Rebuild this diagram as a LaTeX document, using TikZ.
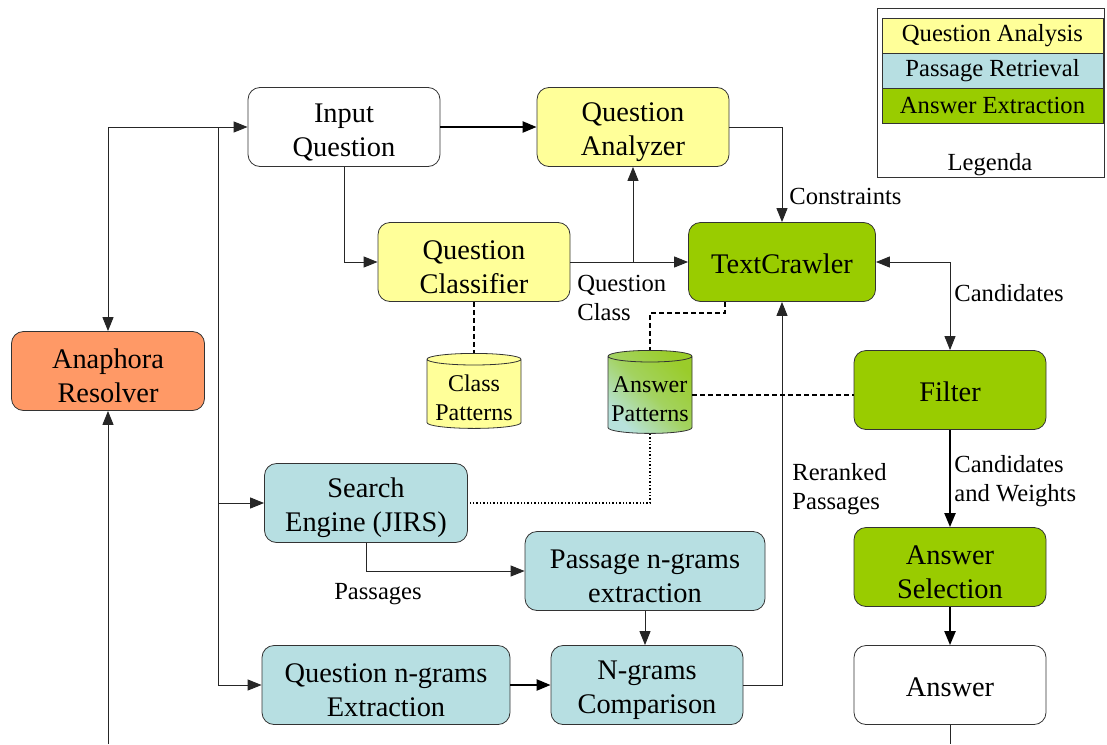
\documentclass[tikz,border=0pt]{standalone}
\usepackage{fontspec}
\setmainfont{Liberation Serif}
\usetikzlibrary{arrows.meta,shapes.geometric}
\definecolor{qyellow}{HTML}{FFFF99}
\definecolor{pblue}{HTML}{B7DFE2}
\definecolor{agreen}{HTML}{99CC00}
\definecolor{rorange}{HTML}{FF9966}
\definecolor{apblue}{HTML}{B8E2DC}
\definecolor{apgreen}{HTML}{9ACC2A}
\begin{document}
\begin{tikzpicture}[x=0.5pt,y=-0.5pt,
    box/.style={draw=black!80,rounded corners=6pt,minimum width=96pt,minimum height=39.5pt,
        align=center,inner sep=1pt,text height=31.5pt,font=\fontsize{14.2}{17}\selectfont},
    one line/.style={text height=11.5pt},
    db/.style={draw=black!80,cylinder,shape border rotate=90,aspect=0.15,
        align=center,inner sep=0pt,text height=26.5pt,font=\fontsize{12}{14.5}\selectfont},
    lbl/.style={align=left,inner sep=0pt,font=\fontsize{12.3}{14.5}\selectfont},
    legrow/.style={draw=black!80,minimum width=110.5pt,minimum height=17.5pt,inner sep=0pt,
        font=\fontsize{12.3}{14}\selectfont},
    arr/.style={-{Triangle[length=7pt,width=5.5pt]}},
    link/.style={black!85,line width=0.5pt},
    thick link/.style={black,line width=1.1pt},
    dep/.style={black,line width=0.7pt,dash pattern=on 2.5pt off 1.5pt},
    dep2/.style={black,line width=0.7pt,densely dotted}]
    \useasboundingbox (0,0) rectangle (1107,744);

    % question analysis
    \node[box,fill=white] (IQ) at (344,127) {Input\\Question};
    \node[box,fill=qyellow] (QA) at (633,127) {Question\\Analyzer};
    \node[box,fill=qyellow] (QC) at (474,262) {Question\\Classifier};
    \node[db,fill=qyellow,minimum width=47pt,minimum height=37.5pt,anchor=north] (CP) at (474,353) {Class\\Patterns};
    \node[box,fill=rorange,minimum width=96.5pt] (AR) at (108,371) {Anaphora\\Resolver};

    % passage retrieval
    \node[box,fill=pblue,minimum width=101.5pt] (SE) at (366,503) {Search\\Engine (JIRS)};
    \node[box,fill=pblue,minimum width=120pt] (PN) at (645,571) {Passage n-grams\\extraction};
    \node[box,fill=pblue,minimum width=124pt] (QN) at (386,685) {Question n-grams\\Extraction};
    \node[box,fill=pblue] (NC) at (647,685) {N-grams\\Comparison};

    % answer extraction
    \node[box,one line,fill=agreen,minimum width=93.5pt] (TC) at (782,262) {TextCrawler};
    \node[db,top color=apgreen,bottom color=apblue,middle color=apgreen!70!apblue,shading angle=-45,
        minimum width=42pt,minimum height=41.5pt,anchor=north] (AP) at (650,350) {Answer\\Patterns};
    \node[box,one line,fill=agreen] (FI) at (950,390) {Filter};
    \node[box,fill=agreen] (AS) at (950,567) {Answer\\Selection};
    \node[box,one line,fill=white] (AN) at (950,685) {Answer};

    % legend
    \draw[black!80] (877,8) rectangle (1104,177);
    \node[legrow,fill=qyellow] (L1) at (992.5,35.5) {Question Analysis};
    \node[legrow,fill=pblue] (L2) at (992.5,70.5) {Passage Retrieval};
    \node[legrow,fill=agreen] (L3) at (992.5,105.5) {Answer Extraction};
    \node[inner sep=0pt,font=\fontsize{12.3}{14}\selectfont] (LG) at (990,165) {Legenda};

    % labels
    \node[lbl,anchor=west] (l1) at (789,196) {Constraints};
    \node[lbl,anchor=west] (l2) at (577,298) {Question\\Class};
    \node[lbl,anchor=west] (l3) at (954,293) {Candidates};
    \node[lbl,anchor=west] (l4) at (954,481) {Candidates\\and Weights};
    \node[lbl,anchor=west] (l5) at (792,489) {Reranked\\Passages};
    \node[lbl] (l6) at (378,594) {Passages};

    \coordinate (J1) at (218,127);
    \coordinate (B1) at (108,744);
    \coordinate (B2) at (950,744);

    \draw[link,{Triangle[length=7pt,width=5.5pt]}-{Triangle[length=7pt,width=5.5pt]}] (AR.north) |- (IQ.west);
    \draw[link,arr] (J1) |- (QN.west);
    \draw[link,arr] (J1 |- SE.west) -- (SE.west);
    \draw[link,arr] (B1) -- (AR.south);
    \draw[thick link,arr] (IQ.east) -- (QA.west);
    \draw[link,arr] (IQ.south) |- (QC.west);
    \draw[link,arr] (QC.east) -- (TC.west);
    \draw[link,arr] (QA.south |- QC.east) -- (QA.south);
    \draw[link,arr] (QA.east) -| (TC.north);
    \draw[link,{Triangle[length=7pt,width=5.5pt]}-{Triangle[length=7pt,width=5.5pt]}] (TC.east) -| (FI.north);
    \draw[thick link,arr] (FI.south) -- (AS.north);
    \draw[thick link,arr] (AS.south) -- (AN.north);
    \draw[link] (AN.south) -- (B2);
    \draw[link,arr] (SE.south) |- (PN.west);
    \draw[link,arr] (PN.south) -- (PN.south |- NC.north);
    \draw[thick link,arr] (QN.east) -- (NC.west);
    \draw[link,arr] (NC.east) -| (TC.south);

    \draw[dep] (QC.south) -- (CP.north);
    \draw[dep] ([xshift=-28.5pt]TC.south) -- ++(0,11) -| (AP.north);
    \draw[dep] (AP.east) -- (FI.west |- AP.east);
    \draw[dep2] (AP.south) |- (SE.east);
\end{tikzpicture}
\end{document}
